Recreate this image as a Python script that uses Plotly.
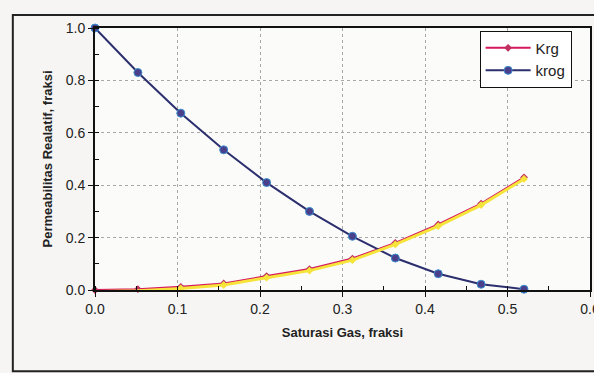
import plotly.graph_objects as go

sg = [0.0, 0.052, 0.104, 0.156, 0.208, 0.26, 0.312, 0.364, 0.416, 0.468, 0.52]
krg = [0.0, 0.003, 0.012, 0.025, 0.053, 0.08, 0.12, 0.18, 0.25, 0.33, 0.43]
krog = [1.0, 0.83, 0.675, 0.535, 0.41, 0.30, 0.205, 0.122, 0.062, 0.022, 0.003]

x_ticks = [0.0, 0.1, 0.2, 0.3, 0.4, 0.5, 0.6]
y_ticks = [0.0, 0.2, 0.4, 0.6, 0.8, 1.0]

fig = go.Figure()
# yellow shadow under Krg
fig.add_trace(go.Scatter(x=sg, y=krg, mode="lines+markers", yaxis="y2",
                         line=dict(color="#f7e43a", width=3),
                         marker=dict(symbol="diamond", size=6, color="#f7e43a"),
                         showlegend=False, hoverinfo="skip", cliponaxis=False))
fig.add_trace(go.Scatter(x=sg, y=krg, mode="lines+markers", name="Krg",
                         line=dict(color="#d6185e", width=2),
                         marker=dict(symbol="diamond", size=6, color="#c03060"),
                         cliponaxis=False))
fig.add_trace(go.Scatter(x=sg, y=krog, mode="lines+markers", name="krog",
                         line=dict(color="#2b2f6e", width=2),
                         marker=dict(symbol="circle", size=8, color="#4a3f8a",
                                     line=dict(color="#3a8fd0", width=1)),
                         cliponaxis=False))

fig.update_layout(
    width=594, height=373,
    margin=dict(l=95, r=4, t=28, b=83, autoexpand=False),
    paper_bgcolor="#f6f5f3", plot_bgcolor="#fbfbfa",
    font=dict(family="Liberation Sans, Arial", size=14, color="#222"),
    xaxis=dict(range=[0, 0.6], tickvals=x_ticks, ticktext=[f"{v:.1f}" for v in x_ticks],
               ticklabeloverflow="allow", automargin=False,
               showgrid=True, gridcolor="#a8a8a8", griddash="dot", gridwidth=1,
               showline=True, linecolor="#111", linewidth=2, mirror=True,
               ticks="outside", ticklen=5, tickcolor="#111", zeroline=False,
               minor=dict(dtick=0.05, ticks="inside", ticklen=4, tickcolor="#111", showgrid=False),
               title=dict(text="<b>Saturasi Gas, fraksi</b>", font=dict(size=13), standoff=12)),
    yaxis=dict(range=[0, 1.0], tickvals=y_ticks, ticktext=[f"{v:.1f}" for v in y_ticks],
               automargin=False,
               showgrid=True, gridcolor="#a8a8a8", griddash="dot", gridwidth=1,
               showline=True, linecolor="#111", linewidth=2, mirror=True,
               ticks="outside", ticklen=5, tickcolor="#111", zeroline=False,
               minor=dict(dtick=0.1, ticks="inside", ticklen=4, tickcolor="#111", showgrid=False),
               title=dict(text="<b>Permeabilitas Realatif, fraksi</b>", font=dict(size=13), standoff=10)),
    yaxis2=dict(range=[0.006, 1.006], overlaying="y", visible=False),
    legend=dict(x=0.777, y=0.99, xanchor="left", yanchor="top",
                bgcolor="white", bordercolor="#111", borderwidth=1,
                font=dict(size=15), itemwidth=45),
    shapes=[dict(type="rect", xref="paper", yref="paper",
                 x0=-0.166, x1=1.05, y0=-0.31, y1=1.05,
                 line=dict(color="#222", width=2), layer="below")],
)

fig.write_html("out.html")
